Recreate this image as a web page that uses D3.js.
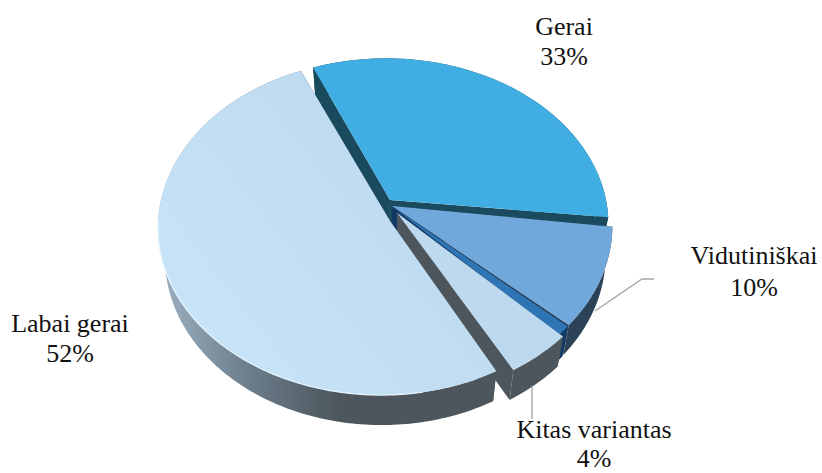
<!DOCTYPE html>
<html><head><meta charset="utf-8">
<script src="https://cdn.jsdelivr.net/npm/d3@7/dist/d3.min.js"></script>
<style>html,body{margin:0;padding:0;background:#fff}svg{display:block}text{font-family:"Liberation Serif","Times New Roman",serif;font-size:26px;fill:#111;text-anchor:middle}</style>
</head><body><svg id="c" width="822" height="473"></svg>
<script>
const categories = ["Gerai", "Vidutiniškai", "", "Kitas variantas", "Labai gerai"];
const values = [33, 10, 1, 4, 52];
const showLabel = [true, true, false, true, true];

// layout (disc units), kept apart from data
const W = 822, H = 473;
const CX = 386, CY = 205, RX = 222, RY = 165, K = 0.12, DEPTH = 30, TAPER = 0.03;
const START = -21.5 * Math.PI / 180;
const apexOff = [[.018,-.03],[.027,.006],[.03,.012],[.05,.048],[.018,.096]];
const arcOff  = [[0,0],[.012,.002],[.012,.004],[.012,.015],[-.018,.012]];
const arcR    = [.995,1,1,1.01,1];
const trimDeg = [[0,3.1],[0,1.5],[-1,1.2],[-2,1],[1.2,2.5]];
const topFill = ["#41aee2","#6fa8dc","#2e75b6","#bcd9f0","url(#gL)"];
const wallFill = ["#1a4a5e","#2b4259","#123a66","#4c565c","url(#gW)"];
const labelLines = [
  {i:0,x:564,y:[35,65]},{i:1,x:754,y:[264,296]},{i:3,x:594,y:[438,467]},{i:4,x:70,y:[332,362]}
];
const leaders = [[[595,311],[642,279],[654,279]],[[532,386],[532,419]]];

const sx = d3.scaleLinear().domain([-1,1]).range([CX-RX,CX+RX]);
const sy = d3.scaleLinear().domain([-1,1]).range([CY-RY,CY+RY]);
function proj(u,v,z=0){
  const w = 1 - K*v;
  return [sx(u/w*(1-TAPER*z)), sy(v/w) + z*DEPTH];
}
const svg = d3.select("#c");
const defs = svg.append("defs");
const gL = defs.append("linearGradient").attr("id","gL").attr("gradientUnits","userSpaceOnUse")
  .attr("x1",160).attr("y1",390).attr("x2",500).attr("y2",120);
gL.append("stop").attr("offset",0).attr("stop-color","#c9e5f9");
gL.append("stop").attr("offset",1).attr("stop-color","#bbd7ed");
const gW = defs.append("linearGradient").attr("id","gW").attr("gradientUnits","userSpaceOnUse")
  .attr("x1",165).attr("y1",0).attr("x2",340).attr("y2",0);
gW.append("stop").attr("offset",0).attr("stop-color","#9aaebf");
gW.append("stop").attr("offset",.5).attr("stop-color","#6a7b89");
gW.append("stop").attr("offset",1).attr("stop-color","#4c565c");
const f = defs.append("filter").attr("id","soft").attr("x","-5%").attr("y","-5%").attr("width","110%").attr("height","110%");
f.append("feGaussianBlur").attr("stdDeviation",.45);

const pie = d3.pie().sort(null).startAngle(START).endAngle(START+2*Math.PI);
const arcs = pie(values);
const line = d3.line();
arcs.forEach((a,i)=>{
  const a0 = a.startAngle + trimDeg[i][0]*Math.PI/180;
  const a1 = a.endAngle - trimDeg[i][1]*Math.PI/180;
  const n = Math.max(4, Math.ceil((a1-a0)*60));
  const ang = d3.range(n+1).map(j=>a0+(a1-a0)*j/n);
  const rim = (z)=>ang.map(t=>proj(arcOff[i][0]+arcR[i]*Math.sin(t), arcOff[i][1]-arcR[i]*Math.cos(t), z));
  const apex = (z)=>proj(apexOff[i][0],apexOff[i][1],z);
  const g = svg.append("g").attr("class","slice");
  g.append("path").attr("d",line(rim(0).concat(rim(1).reverse()))+"Z").attr("fill",wallFill[i]);
  const r0=rim(0), r1=rim(1);
  const cut = wallFill[i]==="url(#gW)"?"#4c565c":wallFill[i];
  g.append("path").attr("d",line([apex(0),r0[0],r1[0],apex(1)])+"Z").attr("fill",cut);
  g.append("path").attr("d",line([apex(0),r0[n],r1[n],apex(1)])+"Z").attr("fill",cut);
  g.append("path").attr("d",line([apex(0)].concat(r0))+"Z").attr("fill",topFill[i]).attr("filter","url(#soft)");
  if(i===4){
    const k0 = Math.round(n*.1), k1 = Math.round(n*.62);
    g.append("path").attr("d",line(r0.slice(k0,k1))).attr("fill","none").attr("stroke","#e6f4fd").attr("stroke-width",1.2);
  }
});
svg.append("g").selectAll("path").data(leaders).join("path")
  .attr("d",d=>line(d)).attr("fill","none").attr("stroke","#a6a6a6").attr("stroke-width",1.4);
const tg = svg.append("g");
labelLines.forEach(l=>{
  if(!showLabel[l.i]) return;
  tg.append("text").attr("x",l.x).attr("y",l.y[0]).text(categories[l.i]);
  tg.append("text").attr("x",l.x).attr("y",l.y[1]).text(values[l.i]+"%");
});
</script></body></html>
